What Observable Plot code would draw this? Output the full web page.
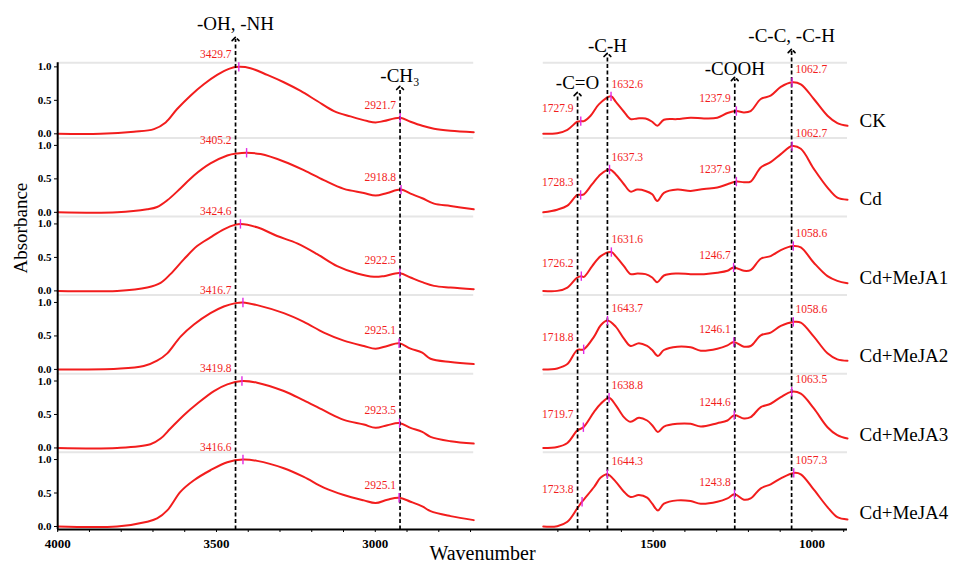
<!DOCTYPE html>
<html><head><meta charset="utf-8">
<script src="https://cdn.jsdelivr.net/npm/d3@7"></script>
<script src="https://cdn.jsdelivr.net/npm/@observablehq/plot@0.6"></script>
<style>html,body{margin:0;padding:0;background:#fff}#chart svg{display:block}</style>
</head><body><div id="chart"></div>
<script>
// ---------------- DATA ----------------
const samples = ["CK", "Cd", "Cd+MeJA1", "Cd+MeJA2", "Cd+MeJA3", "Cd+MeJA4"];

// [wavenumber, absorbance] — high-wavenumber window (4000–2690)
const ckHigh = [[4000,0.0],[3865,0.0],[3760,0.03],[3697,0.07],[3660,0.17],[3624,0.37],[3582,0.57],[3540,0.74],[3498,0.88],[3461,0.97],[3429.7,1.0],[3393,0.98],[3340,0.88],[3288,0.77],[3235,0.64],[3183,0.49],[3130,0.34],[3078,0.26],[3025,0.19],[2999,0.17],[2973,0.19],[2921.7,0.24],[2889,0.18],[2852,0.12],[2815,0.075],[2763,0.045],[2690,0.025]];
const cdHigh = [[4000,0.0],[3813,0.0],[3718,0.045],[3687,0.08],[3655,0.18],[3613,0.36],[3571,0.55],[3519,0.73],[3466,0.85],[3435,0.88],[3405.2,0.89],[3361,0.87],[3288,0.76],[3225,0.63],[3162,0.48],[3099,0.35],[3036,0.29],[2999,0.25],[2962,0.29],[2918.8,0.34],[2889,0.28],[2852,0.21],[2815,0.13],[2763,0.095],[2690,0.045]];
const meja1High = [[4000,0.0],[3813,0.0],[3718,0.05],[3676,0.12],[3645,0.25],[3603,0.47],[3561,0.67],[3519,0.80],[3477,0.92],[3440,0.99],[3424.6,1.0],[3372,0.95],[3309,0.82],[3246,0.71],[3183,0.55],[3120,0.37],[3057,0.26],[3004,0.21],[2973,0.22],[2922.5,0.265],[2889,0.20],[2852,0.13],[2815,0.075],[2763,0.05],[2690,0.025]];
const meja2High = [[4000,0.0],[3813,0.01],[3729,0.05],[3687,0.13],[3655,0.24],[3613,0.49],[3571,0.67],[3519,0.84],[3477,0.94],[3440,0.99],[3416.7,1.0],[3372,0.96],[3288,0.84],[3225,0.71],[3162,0.55],[3099,0.43],[3036,0.35],[2999,0.31],[2962,0.35],[2925.1,0.39],[2889,0.31],[2852,0.25],[2826,0.16],[2763,0.11],[2690,0.08]];
const meja3High = [[4000,0.0],[3813,0.0],[3708,0.055],[3676,0.14],[3645,0.29],[3603,0.49],[3561,0.66],[3508,0.85],[3466,0.95],[3419.8,1.0],[3372,0.975],[3288,0.85],[3225,0.71],[3162,0.56],[3099,0.42],[3036,0.35],[2999,0.30],[2962,0.34],[2923.5,0.37],[2889,0.30],[2852,0.24],[2826,0.165],[2763,0.10],[2690,0.065]];
const meja4High = [[4000,0.0],[3813,0.0],[3718,0.07],[3687,0.12],[3655,0.24],[3613,0.52],[3571,0.69],[3519,0.84],[3466,0.96],[3416.6,1.0],[3372,0.98],[3288,0.87],[3225,0.74],[3162,0.58],[3099,0.47],[3036,0.39],[2999,0.35],[2962,0.40],[2925.1,0.43],[2889,0.37],[2852,0.30],[2826,0.23],[2763,0.155],[2690,0.095]];

// [wavenumber, absorbance] — fingerprint window (1846–888)
const ckLow = [[1846,0.0],[1802,0.01],[1770,0.06],[1739,0.18],[1727.9,0.19],[1718,0.19],[1697,0.27],[1671,0.44],[1632.6,0.56],[1618,0.48],[1592,0.33],[1571,0.22],[1550,0.23],[1524,0.23],[1503,0.18],[1487,0.12],[1466,0.21],[1424,0.22],[1382,0.24],[1340,0.23],[1298,0.24],[1266,0.31],[1237.9,0.34],[1214,0.32],[1193,0.34],[1161,0.52],[1130,0.57],[1098,0.70],[1062.7,0.77],[1035,0.74],[994,0.52],[951,0.27],[920,0.16],[888,0.12]];
const cdLow = [[1846,0.0],[1802,0.04],[1770,0.10],[1739,0.26],[1728.3,0.26],[1718,0.27],[1692,0.42],[1665,0.57],[1637.3,0.64],[1618,0.57],[1592,0.42],[1571,0.31],[1550,0.34],[1524,0.32],[1503,0.27],[1487,0.17],[1466,0.29],[1424,0.34],[1382,0.32],[1340,0.35],[1298,0.37],[1266,0.42],[1237.9,0.46],[1214,0.45],[1193,0.46],[1161,0.67],[1130,0.75],[1098,0.87],[1062.7,0.99],[1035,0.95],[994,0.65],[951,0.37],[920,0.22],[888,0.19]];
const meja1Low = [[1846,0.0],[1802,0.0],[1770,0.05],[1739,0.20],[1726.2,0.22],[1718,0.21],[1692,0.37],[1665,0.52],[1631.6,0.58],[1618,0.52],[1592,0.37],[1571,0.25],[1550,0.26],[1524,0.25],[1503,0.20],[1487,0.13],[1466,0.23],[1424,0.26],[1382,0.25],[1340,0.25],[1298,0.27],[1266,0.30],[1246.7,0.35],[1214,0.30],[1193,0.31],[1161,0.48],[1130,0.52],[1098,0.61],[1058.6,0.67],[1035,0.65],[994,0.42],[951,0.22],[920,0.15],[888,0.115]];
const meja2Low = [[1846,0.0],[1802,0.015],[1770,0.08],[1739,0.29],[1718.8,0.30],[1686,0.49],[1665,0.66],[1643.7,0.73],[1618,0.64],[1592,0.46],[1571,0.35],[1545,0.39],[1519,0.35],[1503,0.29],[1485,0.20],[1466,0.29],[1424,0.34],[1382,0.33],[1350,0.28],[1298,0.31],[1266,0.36],[1246.1,0.41],[1214,0.34],[1193,0.35],[1161,0.51],[1130,0.55],[1098,0.65],[1058.6,0.71],[1035,0.70],[994,0.49],[951,0.24],[920,0.15],[888,0.13]];
const meja3Low = [[1846,0.0],[1802,0.015],[1770,0.075],[1739,0.26],[1719.7,0.31],[1686,0.54],[1665,0.66],[1638.8,0.75],[1618,0.64],[1592,0.46],[1571,0.39],[1545,0.45],[1519,0.41],[1503,0.34],[1485,0.24],[1466,0.32],[1424,0.36],[1382,0.36],[1350,0.32],[1298,0.37],[1266,0.41],[1244.6,0.49],[1214,0.44],[1193,0.46],[1161,0.61],[1130,0.66],[1098,0.76],[1063.5,0.84],[1035,0.81],[994,0.59],[951,0.31],[920,0.19],[888,0.14]];
const meja4Low = [[1846,0.0],[1802,0.005],[1770,0.07],[1739,0.27],[1723.8,0.37],[1686,0.59],[1665,0.73],[1644.3,0.78],[1618,0.67],[1592,0.52],[1571,0.44],[1545,0.47],[1519,0.43],[1503,0.34],[1485,0.24],[1466,0.34],[1424,0.39],[1382,0.38],[1350,0.34],[1298,0.37],[1266,0.42],[1243.8,0.48],[1214,0.40],[1193,0.42],[1161,0.57],[1130,0.63],[1098,0.72],[1057.3,0.80],[1035,0.78],[994,0.55],[951,0.29],[920,0.14],[888,0.105]];

const highWindow = [ckHigh, cdHigh, meja1High, meja2High, meja3High, meja4High];
const lowWindow = [ckLow, cdLow, meja1Low, meja2Low, meja3Low, meja4Low];

// functional-group bands
const groupLabels = ["-OH, -NH", "-CH\u2083", "-C=O", "-C-H", "-COOH", "-C-C, -C-H"];
const groupWavenumbers = [3440, 2922, 1738, 1644, 1243, 1064];

// labelled peak positions and their absorbance, per sample (same order as groups)
const peakWavenumbers = [
  [3429.7, 2921.7, 1727.9, 1632.6, 1237.9, 1062.7],
  [3405.2, 2918.8, 1728.3, 1637.3, 1237.9, 1062.7],
  [3424.6, 2922.5, 1726.2, 1631.6, 1246.7, 1058.6],
  [3416.7, 2925.1, 1718.8, 1643.7, 1246.1, 1058.6],
  [3419.8, 2923.5, 1719.7, 1638.8, 1244.6, 1063.5],
  [3416.6, 2925.1, 1723.8, 1644.3, 1243.8, 1057.3]
];
const peakAbsorbance = [
  [1.0, 0.24, 0.19, 0.56, 0.34, 0.77],
  [0.89, 0.34, 0.26, 0.64, 0.46, 0.99],
  [1.0, 0.265, 0.22, 0.58, 0.35, 0.67],
  [1.0, 0.39, 0.30, 0.73, 0.41, 0.71],
  [1.0, 0.37, 0.31, 0.75, 0.49, 0.84],
  [1.0, 0.43, 0.37, 0.78, 0.48, 0.80]
];

const xTickValues = [4000, 3500, 3000, 1500, 1000];
const xMinorTicks = [3900, 3800, 3700, 3600, 3400, 3300, 3200, 3100, 2900, 2800, 2700, 1800, 1700, 1600, 1400, 1300, 1200, 1100, 900];
const yTickValues = [0, 0.5, 1.0];

// ---------------- LAYOUT ----------------
// broken x axis: the band 2690–1846 cm-1 is cut out and the two windows are
// placed side by side on one linear scale of "axis units".
const BREAK = 2300, LEFT_ORIGIN = 4000, RIGHT_ORIGIN = 3375;
const axisU = w => (w >= BREAK ? LEFT_ORIGIN - w : RIGHT_ORIGIN - w);
const waveOf = u => (u < 1400 ? LEFT_ORIGIN - u : RIGHT_ORIGIN - u);

const STEP = 1.173;                 // vertical stacking step, in absorbance units
const offset = i => (samples.length - 1 - i) * STEP;
const yBottom = -0.045, yTop = 6.975;
const arrowTop = [7.283, 6.552, 6.462, 7.045, 6.686, 7.104];
const groupLabelY = [7.507, 6.731, 6.627, 7.179, 6.836, 7.328];
const labelSide = ["end", "end", "end", "start", "end", "start"];
const windows = [[4000, 2690], [1846, 888]];

const rows = [];
samples.forEach((s, i) => {
  [["high", highWindow[i]], ["low", lowWindow[i]]].forEach(([seg, arr]) => {
    arr.forEach(([w, a]) => rows.push({sample: s, key: s + "-" + seg, u: axisU(w), y: a + offset(i)}));
  });
});

const peaks = [];
samples.forEach((s, i) => {
  peakWavenumbers[i].forEach((w, j) => {
    peaks.push({u: axisU(w), anchorU: axisU(groupWavenumbers[j]), y: peakAbsorbance[i][j] + offset(i), text: w.toFixed(1), side: labelSide[j]});
  });
});

const groups = groupLabels.map((label, j) => ({label, u: axisU(groupWavenumbers[j]), tip: arrowTop[j], ly: groupLabelY[j]}));

const dividers = [];
samples.forEach((s, i) => windows.forEach(([a, b]) => dividers.push({y: offset(i) + (i === 0 ? 1.06 : 1.11), x1: axisU(a), x2: axisU(b)})));

const yTicks = samples.flatMap((s, i) => yTickValues.map(v => v + offset(i)));
const fmtY = d => { const k = Math.floor((d + 0.01) / STEP); return Math.abs(d - k * STEP).toFixed(1); };

const serif = "'Liberation Serif', 'Times New Roman', serif";
const red = "#f21d1d";

const chart = Plot.plot({
  width: 964,
  height: 569,
  marginLeft: 57,
  marginRight: 117,
  marginTop: 59,
  marginBottom: 40,
  style: {fontFamily: serif, background: "#fff", color: "#000", overflow: "visible"},
  x: {domain: [axisU(4000), axisU(888)], range: [57.2, 847]},
  y: {domain: [yBottom, yTop], range: [529, 59]},
  marks: [
    Plot.ruleY(dividers, {y: "y", x1: "x1", x2: "x2", stroke: "#e6e6e6", strokeWidth: 2}),
    Plot.line(rows, {x: "u", y: "y", z: "key", stroke: red, strokeWidth: 2, curve: "catmull-rom"}),
    Plot.link(groups, {x1: "u", x2: "u", y1: () => yBottom, y2: "tip", stroke: "#000", strokeWidth: 1.7, strokeDasharray: "4,2.5", markerEnd: "arrow"}),
    Plot.text(groups, {x: "u", y: "ly", text: "label", fontSize: 19, fill: "#000"}),
    Plot.link(peaks, {x1: "u", x2: "u", y1: d => d.y - 0.07, y2: d => d.y + 0.07, stroke: "#e22be2", strokeWidth: 1.4}),
    Plot.text(peaks.filter(d => d.side === "end"), {x: "anchorU", y: "y", text: "text", textAnchor: "end", dx: -4, dy: -12.5, fontSize: 11.5, fill: red}),
    Plot.text(peaks.filter(d => d.side === "start"), {x: "anchorU", y: "y", text: "text", textAnchor: "start", dx: 4, dy: -12.5, fontSize: 11.5, fill: red}),
    Plot.text(samples, {x: () => axisU(888), y: (d, i) => offset(i) + 0.2, text: d => d, textAnchor: "start", dx: 12, fontSize: 19, fill: "#000"}),
    Plot.ruleY([yBottom], {stroke: "#000", strokeWidth: 2}),
    Plot.ruleX([axisU(4000)], {y1: () => yBottom, y2: () => offset(0) + 1.06, stroke: "#000", strokeWidth: 2}),
    Plot.axisY({ticks: yTicks, tickFormat: fmtY, tickSize: 3, tickPadding: 3, fontSize: 11, fontWeight: "bold", label: null}),
    Plot.axisX({ticks: xMinorTicks.map(axisU), tickFormat: () => "", tickSize: 3, label: null}),
    Plot.axisX({ticks: xTickValues.map(axisU), tickFormat: u => String(waveOf(u)), tickSize: 3, tickPadding: 6, fontSize: 13, fontWeight: "bold", label: null}),
    Plot.text(["Absorbance"], {frameAnchor: "left", rotate: -90, dx: -37, dy: -21, fontSize: 19, fill: "#000"}),
    Plot.text(["Wavenumber"], {frameAnchor: "bottom", dx: 30, dy: 30, fontSize: 20, fill: "#000"})
  ]
});
document.getElementById("chart").appendChild(chart);
</script>
</body></html>
